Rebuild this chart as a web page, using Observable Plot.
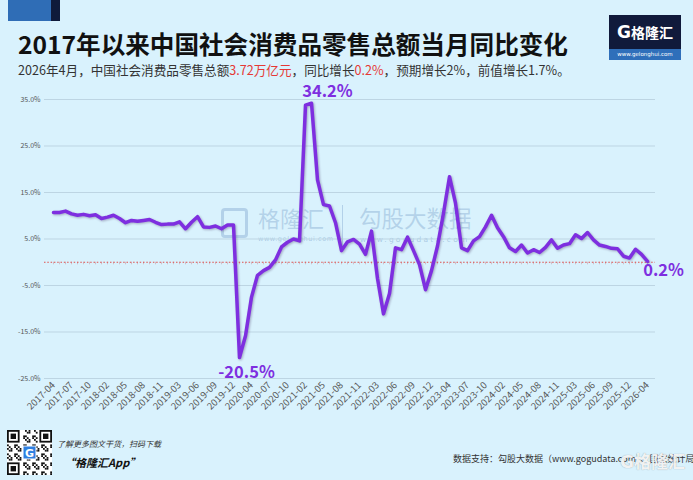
<!DOCTYPE html>
<html><head><meta charset="utf-8">
<script src="https://cdn.jsdelivr.net/npm/d3@7"></script>
<script src="https://cdn.jsdelivr.net/npm/@observablehq/plot@0.6"></script>
<style>
html,body{margin:0;padding:0;}
body{width:693px;height:480px;overflow:hidden;background:#d9f2fd;position:relative;font-family:"Noto Sans CJK SC","Noto Sans",sans-serif;}
.abs{position:absolute;white-space:nowrap;}
</style></head><body>
<div class="abs" style="left:8px;top:0;width:43px;height:21px;background:#2f6db6"></div>
<div class="abs" style="left:51px;top:0;width:9px;height:21px;background:#0f1a3a"></div>
<div class="abs" style="left:18px;top:28px;font-size:24.6px;font-weight:700;color:#111;line-height:30px">2017年以来中国社会消费品零售总额当月同比变化</div>
<div class="abs" style="left:18px;top:62px;font-size:12.6px;color:#333;line-height:16px">2026年4月，中国社会消费品零售总额<span style="color:#e53935">3.72万亿元</span>，同比增长<span style="color:#e53935">0.2%</span>，预期增长2%，前值增长1.7%。</div>

<div class="abs" style="left:609px;top:15px;width:72px;height:34px;background:#101a3b;color:#fff;text-align:center;line-height:34px;font-size:14px;font-weight:700"><span style="font-size:17px;font-weight:900;font-family:'DejaVu Sans'">G</span>格隆汇</div>
<div class="abs" style="left:609px;top:49px;width:72px;height:11px;background:#2f6fba;color:#fff;text-align:center;line-height:11px;font-size:5.5px;font-family:'DejaVu Sans'">www.gelonghui.com</div>

<!-- watermark -->
<div class="abs" style="left:221px;top:208px;width:27px;height:30px;border:3px solid rgba(110,150,195,0.35);border-radius:4px;box-sizing:border-box"></div>
<div class="abs" style="left:258px;top:203px;font-size:22px;color:rgba(110,150,195,0.35);line-height:28px">格隆汇</div>
<div class="abs" style="left:258px;top:235px;font-size:6.5px;color:rgba(110,150,195,0.45);line-height:8px;letter-spacing:0.6px;font-family:'DejaVu Sans'">www.gelonghui.com</div>
<div class="abs" style="left:342px;top:205px;width:1px;height:42px;background:rgba(110,150,195,0.35)"></div>
<div class="abs" style="left:359px;top:203px;font-size:22.5px;color:rgba(110,150,195,0.35);line-height:28px">勾股大数据</div>
<div class="abs" style="left:360px;top:235px;font-size:7.5px;color:rgba(110,150,195,0.45);line-height:9px;letter-spacing:2.2px;font-family:'DejaVu Sans'">www.gogudata.com</div>

<div id="chart" class="abs" style="left:0;top:0"></div>

<!-- footer -->
<div id="qr" class="abs" style="left:7px;top:430px"></div>
<div class="abs" style="left:57px;top:438px;font-size:8px;font-style:italic;color:#333;line-height:12px">了解更多图文干货，扫码下载</div>
<div class="abs" style="left:64px;top:454px;font-size:11px;font-style:italic;font-weight:700;color:#111;line-height:16px">“格隆汇App”</div>
<div class="abs" style="left:453px;top:452px;font-size:9px;color:#333;line-height:14px">数据支持：勾股大数据（www.gogudata.com）、国家统计局</div>
<div class="abs" style="left:620px;top:449px;font-size:17px;font-weight:700;color:rgba(255,255,255,0.9);line-height:24px;text-shadow:0 0 1px rgba(90,90,90,0.6)"><span style="font-family:'DejaVu Sans';font-weight:900">G</span>格隆汇</div>

<script>
const months = [
"2017-04","2017-05","2017-06","2017-07","2017-08","2017-09","2017-10","2017-11","2017-12",
"2018-02","2018-03","2018-04","2018-05","2018-06","2018-07","2018-08","2018-09","2018-10","2018-11","2018-12",
"2019-02","2019-03","2019-04","2019-05","2019-06","2019-07","2019-08","2019-09","2019-10","2019-11","2019-12",
"2020-02","2020-03","2020-04","2020-05","2020-06","2020-07","2020-08","2020-09","2020-10","2020-11","2020-12",
"2021-02","2021-03","2021-04","2021-05","2021-06","2021-07","2021-08","2021-09","2021-10","2021-11","2021-12",
"2022-02","2022-03","2022-04","2022-05","2022-06","2022-07","2022-08","2022-09","2022-10","2022-11","2022-12",
"2023-02","2023-03","2023-04","2023-05","2023-06","2023-07","2023-08","2023-09","2023-10","2023-11","2023-12",
"2024-02","2024-03","2024-04","2024-05","2024-06","2024-07","2024-08","2024-09","2024-10","2024-11","2024-12",
"2025-02","2025-03","2025-04","2025-05","2025-06","2025-07","2025-08","2025-09","2025-10","2025-11","2025-12",
"2026-02","2026-03","2026-04"];
const values = [
10.7,10.7,11.0,10.4,10.1,10.3,10.0,10.2,9.4,
9.7,10.1,9.4,8.5,9.0,8.8,9.0,9.2,8.6,8.1,8.2,
8.2,8.7,7.2,8.6,9.8,7.6,7.5,7.8,7.2,8.0,8.0,
-20.5,-15.8,-7.5,-2.8,-1.8,-1.1,0.5,3.3,4.3,5.0,4.6,
33.8,34.2,17.7,12.4,12.1,8.5,2.5,4.4,4.9,3.9,1.7,
6.7,-3.5,-11.1,-6.7,3.1,2.7,5.4,2.5,-0.5,-5.9,-1.8,
3.5,10.6,18.4,12.7,3.1,2.5,4.6,5.5,7.6,10.1,7.4,
5.5,3.1,2.3,3.7,2.0,2.7,2.1,3.2,4.8,3.0,3.7,
4.0,5.9,5.1,6.4,4.8,3.7,3.4,3.0,2.9,1.3,0.9,
2.8,1.7,0.2];
const tickLabels = months.filter((_, i) => i % 3 === 0);
const yTicks = [-25, -15, -5, 5, 15, 25, 35];

const data = months.map((m, i) => ({month: m, value: values[i]}));
const iMax = d3.maxIndex(values), iMin = d3.minIndex(values), iLast = values.length - 1;
const pct = v => v.toFixed(1) + "%";
const purple = "#7e2fe0";
const lab = {x: "month", y: "value", text: d => pct(d.value), fill: purple, fontSize: 16.5, fontWeight: 700};

const chart = Plot.plot({
  width: 693, height: 480,
  marginTop: 99, marginBottom: 102, marginLeft: 44, marginRight: 38,
  style: {background: "transparent", fontFamily: "'Noto Sans CJK SC','Noto Sans',sans-serif", overflow: "visible"},
  x: {type: "point", domain: months, padding: 0.5, label: null},
  y: {domain: [-25, 35], label: null},
  marks: [
    Plot.ruleY(yTicks, {stroke: "#bdd5e3", strokeWidth: 1}),
    Plot.ruleX(months, {x: d => d, y1: 0, y2: -0.55, stroke: "#c9a9b3", strokeWidth: 0.7}),
    Plot.ruleY([0], {stroke: "#e0524f", strokeDasharray: "1.5,1.8", strokeWidth: 1}),
    Plot.axisY({ticks: yTicks, tickSize: 0, tickPadding: 4, tickFormat: pct, fontSize: 7, color: "#555", label: null}),
    Plot.axisX({ticks: tickLabels, tickSize: 0, tickRotate: -45, tickPadding: 5, fontSize: 9.5, color: "#555", label: null}),
    Plot.line(data, {x: "month", y: "value", stroke: purple, strokeWidth: 3.5, strokeLinejoin: "round"}),
    Plot.text([data[iMax]], {...lab, dx: 16, dy: -12}),
    Plot.text([data[iMin]], {...lab, dx: 7, dy: 15}),
    Plot.text([data[iLast]], {...lab, dx: 16, dy: 9})
  ]
});
d3.select(chart).selectAll("g[aria-label=line] path").style("filter", "drop-shadow(1px 1.5px 1px rgba(60,40,90,0.35))");
document.getElementById("chart").appendChild(chart);

// decorative QR-like block
(function(){
  const n = 25, s = 45 / n;
  const svg = d3.select("#qr").append("svg").attr("width", 45).attr("height", 45);
  svg.append("rect").attr("width", 45).attr("height", 45).attr("fill", "#fff");
  const inFinder = (i, j) => (i < 8 && j < 8) || (i < 8 && j >= n - 8) || (i >= n - 8 && j < 8);
  for (let i = 0; i < n; i++) for (let j = 0; j < n; j++) {
    if (inFinder(i, j)) continue;
    if (((i * 7 + j * 13 + i * j) % 5) < 2) svg.append("rect").attr("x", j * s).attr("y", i * s).attr("width", s).attr("height", s).attr("fill", "#111");
  }
  [[0,0],[0,n-7],[n-7,0]].forEach(([r,c]) => {
    svg.append("rect").attr("x", c*s + s/2).attr("y", r*s + s/2).attr("width", 6*s).attr("height", 6*s).attr("fill", "none").attr("stroke", "#111").attr("stroke-width", s);
    svg.append("rect").attr("x", (c+2)*s).attr("y", (r+2)*s).attr("width", 3*s).attr("height", 3*s).attr("fill", "#111");
  });
  svg.append("rect").attr("x", 16).attr("y", 16).attr("width", 13).attr("height", 13).attr("fill", "#2f7fe0").attr("stroke", "#fff");
  svg.append("text").attr("x", 22.5).attr("y", 26.5).attr("text-anchor", "middle").attr("font-size", 11).attr("font-weight", 900).attr("fill", "#fff").attr("font-family", "DejaVu Sans").text("G");
})();
</script>
</body></html>
